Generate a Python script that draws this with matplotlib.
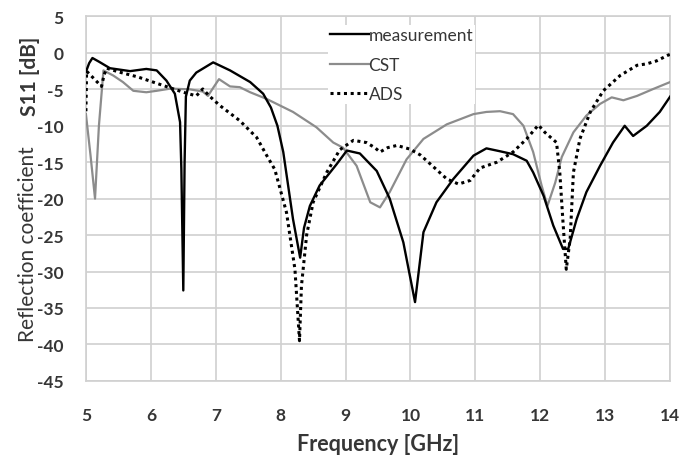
import numpy as np
import matplotlib
matplotlib.use('Agg')
import matplotlib.pyplot as plt

# values (frequency in GHz, S11 in dB)
meas_f = [5.0, 5.05, 5.1, 5.2, 5.37, 5.68, 5.93, 6.09, 6.24, 6.37, 6.45, 6.47, 6.5, 6.52,
          6.54, 6.6, 6.7, 6.96, 7.22, 7.53, 7.73, 7.85, 7.95, 8.04, 8.19, 8.3, 8.36, 8.45,
          8.6, 8.86, 9.02, 9.22, 9.48, 9.68, 9.89, 10.07, 10.2, 10.4, 10.66, 10.97, 11.17,
          11.38, 11.58, 11.79, 11.89, 12.05, 12.2, 12.35, 12.43, 12.56, 12.71, 12.92, 13.12,
          13.3, 13.43, 13.64, 13.84, 14.0]
meas_db = [-2.6, -1.4, -0.7, -1.2, -2.1, -2.5, -2.2, -2.4, -3.8, -5.6, -9.5, -15.9, -32.6, -15.0,
           -6.0, -3.8, -2.7, -1.3, -2.4, -4.0, -5.6, -7.5, -10.0, -13.6, -22.8, -28.1, -24.0, -21.0,
           -18.2, -15.3, -13.4, -13.8, -16.2, -20.0, -26.0, -34.2, -24.6, -20.5, -17.3, -14.1, -13.1,
           -13.5, -13.9, -14.8, -16.4, -19.6, -23.7, -26.9, -26.9, -22.8, -19.1, -15.5, -12.3,
           -10.0, -11.4, -10.0, -8.1, -6.0]

cst_f = [5.0, 5.07, 5.14, 5.2, 5.27, 5.42, 5.57, 5.73, 5.93, 6.09, 6.3, 6.6, 6.8, 6.88, 6.96,
         7.05, 7.22, 7.37, 7.53, 7.78, 8.19, 8.55, 8.81, 8.96, 9.17, 9.38, 9.53, 9.68, 9.94,
         10.2, 10.56, 10.97, 11.17, 11.38, 11.58, 11.74, 11.89, 12.02, 12.11, 12.23, 12.33,
         12.51, 12.71, 12.92, 13.1, 13.28, 13.49, 13.74, 14.0]
cst_db = [-8.4, -14.0, -20.0, -10.0, -2.4, -3.1, -4.0, -5.2, -5.4, -5.2, -4.9, -5.0, -5.3, -5.9, -4.8,
          -3.6, -4.6, -4.7, -5.4, -6.3, -8.1, -10.2, -12.3, -13.0, -15.5, -20.5, -21.2, -19.1, -14.6,
          -11.8, -9.8, -8.4, -8.1, -8.0, -8.4, -10.0, -13.6, -18.2, -21.0, -17.8, -14.3,
          -10.9, -8.6, -7.0, -6.1, -6.5, -5.9, -4.95, -4.0]

ads_f = [5.0, 5.01, 5.12, 5.24, 5.28, 5.32, 5.5, 5.8, 6.1, 6.3, 6.5, 6.7, 6.8, 6.9, 7.06, 7.37,
         7.63, 7.78, 7.91, 8.09, 8.22, 8.29, 8.32, 8.4, 8.5, 8.71, 8.91, 9.12, 9.32, 9.45, 9.53,
         9.65, 9.79, 9.99, 10.15, 10.3, 10.56, 10.74, 10.92, 11.07, 11.33, 11.58, 11.79, 11.97,
         12.07, 12.25, 12.3, 12.35, 12.4, 12.46, 12.51, 12.61, 12.77, 12.97, 13.23, 13.49,
         13.64, 13.79, 13.97, 14.0]
ads_db = [-8.0, -2.5, -3.5, -4.6, -3.0, -2.1, -2.6, -3.3, -4.2, -4.8, -5.4, -5.9, -4.95, -5.9, -7.2, -9.3,
          -11.6, -14.0, -16.0, -21.9, -29.7, -39.5, -32.0, -25.0, -20.5, -16.4, -13.3, -12.0, -12.3, -13.0, -13.6,
          -13.0, -12.7, -13.2, -14.0, -15.2, -17.3, -18.0, -17.5, -15.8, -15.0, -13.6, -11.8, -9.9,
          -10.9, -12.3, -16.4, -23.3, -29.7, -25.5, -16.4, -11.8, -8.1, -5.2, -3.1, -1.7,
          -1.5, -1.1, -0.3, -0.2]

x_ticks = list(range(5, 15))
y_ticks = list(range(-45, 10, 5))

plt.rcParams['font.family'] = ['Lato', 'DejaVu Sans']
plt.rcParams['axes.unicode_minus'] = False
txt = '#363636'
grid_c = '#d0d0d0'

fig = plt.figure(figsize=(6.93, 4.6), dpi=100)
ax = fig.add_axes([0.124, 0.170, 0.843, 0.792])

ax.plot(meas_f, meas_db, color='black', lw=1.7, label='measurement', zorder=4)
ax.plot(cst_f, cst_db, color='#8c8c8c', lw=1.6, label='CST', zorder=3)
ax.plot(ads_f, ads_db, color='black', lw=2.2, linestyle=(0, (1.0, 1.2)),
        dash_capstyle='butt', label='ADS', zorder=5)

ax.set_xlim(5, 14)
ax.set_ylim(-45, 5)
ax.set_xticks(x_ticks)
ax.set_yticks(y_ticks)
ax.grid(True, color=grid_c, lw=1.2)
ax.set_axisbelow(True)
for s in ax.spines.values():
    s.set_color(grid_c)
    s.set_linewidth(1.2)
ax.tick_params(length=0, labelsize=12.5, colors=txt)
ax.tick_params(axis='x', pad=19)
ax.tick_params(axis='y', pad=16)
for lab in ax.get_xticklabels() + ax.get_yticklabels():
    lab.set_fontweight('bold')

ax.set_xlabel('Frequency [GHz]', fontsize=15.5, fontweight='bold', color=txt, labelpad=7)

fig.text(0.040, 0.47, 'Reflection coefficient', rotation=90, ha='center', va='center',
         fontsize=15, color=txt)
fig.text(0.043, 0.835, 'S11 [dB]', rotation=90, ha='center', va='center',
         fontsize=15, fontweight='bold', color=txt)

leg = ax.legend(loc='upper left', bbox_to_anchor=(0.40, 1.0), frameon=True, fontsize=12.5,
                handlelength=2.2, handletextpad=0.0, labelspacing=0.78, borderpad=0.12,
                fancybox=False)
leg.get_frame().set_facecolor('white')
leg.get_frame().set_edgecolor('none')
leg.get_frame().set_alpha(1.0)
for t in leg.get_texts():
    t.set_color(txt)

fig.savefig('out.png', dpi=100)
